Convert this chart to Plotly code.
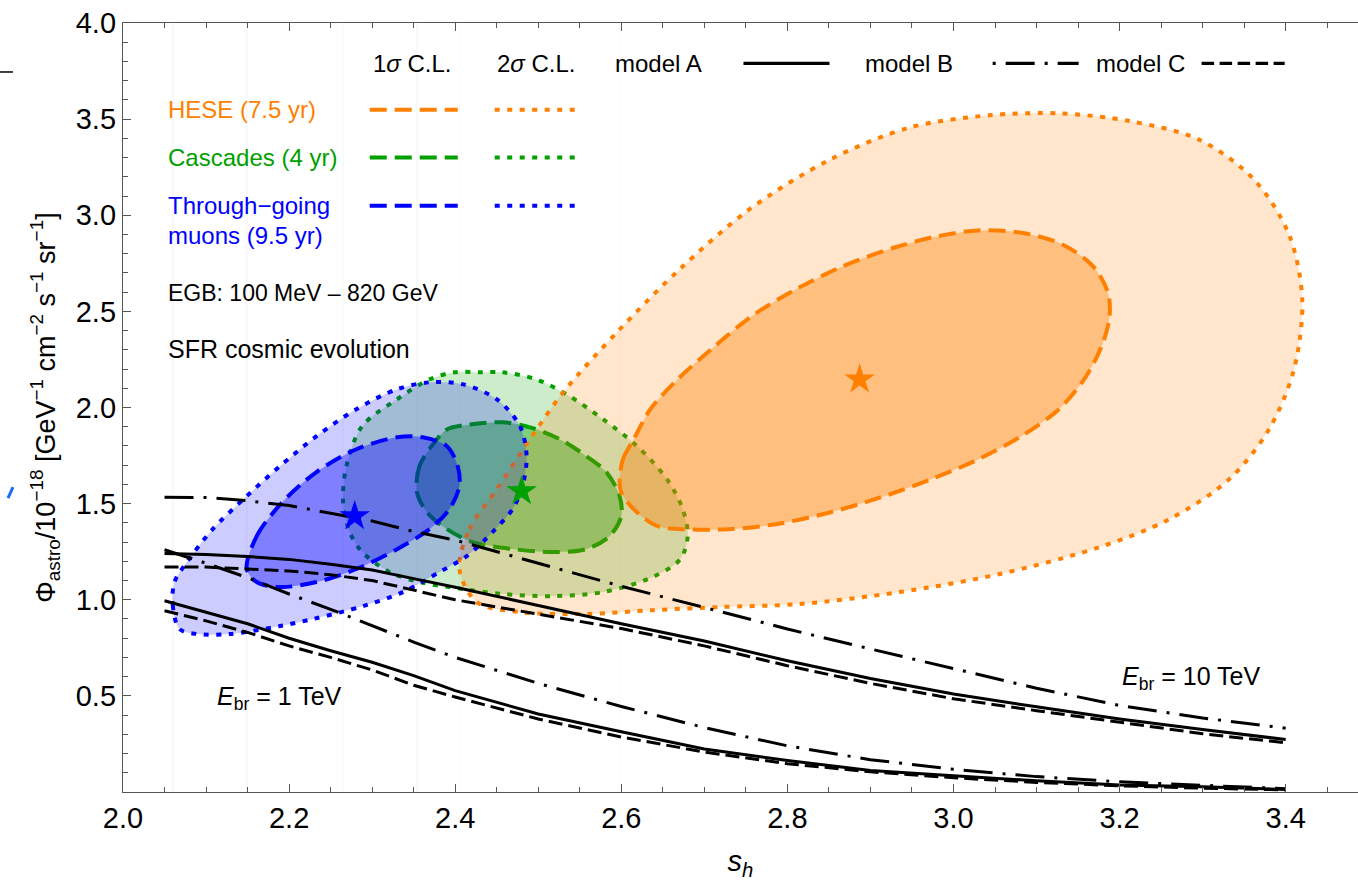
import plotly.graph_objects as go

# ---------------- data ----------------
# model curves: s_h grid and flux for the two break energies
s_grid = [2.05, 2.10, 2.15, 2.20, 2.25, 2.30, 2.35, 2.40, 2.50, 2.60,
          2.70, 2.80, 2.90, 3.00, 3.10, 3.20, 3.30, 3.40]

# E_br = 10 TeV
flux_A_10 = [1.240, 1.235, 1.225, 1.210, 1.185, 1.155, 1.110, 1.065, 0.970, 0.875,
             0.785, 0.683, 0.590, 0.510, 0.443, 0.380, 0.325, 0.273]
flux_B_10 = [1.533, 1.532, 1.515, 1.490, 1.450, 1.410, 1.355, 1.310, 1.190, 1.070,
             0.960, 0.848, 0.744, 0.640, 0.540, 0.450, 0.385, 0.332]
flux_C_10 = [1.170, 1.170, 1.160, 1.150, 1.130, 1.100, 1.050, 1.000, 0.925, 0.850,
             0.760, 0.657, 0.565, 0.485, 0.423, 0.364, 0.303, 0.256]

# E_br = 1 TeV
flux_A_1 = [0.995, 0.935, 0.875, 0.800, 0.735, 0.675, 0.605, 0.527, 0.406, 0.313,
            0.224, 0.164, 0.112, 0.084, 0.058, 0.037, 0.027, 0.013]
flux_B_1 = [1.260, 1.190, 1.115, 1.030, 0.950, 0.865, 0.780, 0.700, 0.565, 0.445,
            0.335, 0.240, 0.168, 0.118, 0.080, 0.053, 0.034, 0.017]
flux_C_1 = [0.943, 0.890, 0.830, 0.760, 0.700, 0.635, 0.555, 0.494, 0.380, 0.286,
            0.208, 0.147, 0.105, 0.074, 0.050, 0.032, 0.020, 0.011]

# best-fit points (s_h, flux)
hese_best = (2.887, 2.146)
casc_best = (2.480, 1.565)
muon_best = (2.279, 1.435)

# confidence contours (s_h, flux)
hese_2s_x = [2.405, 2.417, 2.450, 2.490, 2.530, 2.598, 2.670, 2.754, 2.851, 2.947,
             3.043, 3.127, 3.212, 3.296, 3.362, 3.404, 3.420, 3.410, 3.380, 3.332,
             3.260, 3.176, 3.056, 2.935, 2.815, 2.718, 2.638, 2.558, 2.477, 2.426]
hese_2s_y = [1.160, 1.367, 1.575, 1.835, 2.079, 2.406, 2.718, 3.030, 3.289, 3.456,
             3.520, 3.530, 3.490, 3.393, 3.185, 2.900, 2.562, 2.198, 1.887, 1.627,
             1.419, 1.274, 1.134, 1.040, 0.978, 0.962, 0.946, 0.926, 0.936, 0.988]

hese_1s_x = [2.598, 2.602, 2.615, 2.635, 2.668, 2.708, 2.757, 2.810, 2.867, 2.928,
             2.981, 3.030, 3.082, 3.131, 3.168, 3.186, 3.188, 3.180, 3.160, 3.127,
             3.082, 3.030, 2.973, 2.912, 2.851, 2.786, 2.729, 2.676, 2.643, 2.615,
             2.600]
hese_1s_y = [1.610, 1.731, 1.835, 1.991, 2.147, 2.302, 2.475, 2.614, 2.735, 2.831,
             2.891, 2.921, 2.909, 2.848, 2.735, 2.597, 2.475, 2.337, 2.164, 1.991,
             1.852, 1.731, 1.627, 1.532, 1.454, 1.393, 1.367, 1.367, 1.384, 1.471,
             1.558]

casc_2s_x = [2.430, 2.457, 2.498, 2.538, 2.578, 2.619, 2.655, 2.674, 2.680, 2.671,
             2.638, 2.578, 2.518, 2.457, 2.409, 2.357, 2.321, 2.288, 2.273, 2.265,
             2.269, 2.288, 2.330, 2.369, 2.399]
casc_2s_y = [2.183, 2.183, 2.146, 2.058, 1.939, 1.799, 1.627, 1.471, 1.331, 1.211,
             1.118, 1.040, 1.019, 1.030, 1.056, 1.092, 1.144, 1.248, 1.352, 1.508,
             1.695, 1.903, 2.043, 2.146, 2.183]

casc_1s_x = [2.378, 2.357, 2.354, 2.366, 2.390, 2.421, 2.469, 2.518, 2.558, 2.586,
             2.600, 2.598, 2.582, 2.558, 2.526, 2.490, 2.457, 2.418, 2.390]
casc_1s_y = [1.835, 1.695, 1.560, 1.456, 1.367, 1.300, 1.264, 1.248, 1.264, 1.331,
             1.435, 1.539, 1.664, 1.747, 1.835, 1.897, 1.923, 1.912, 1.886]

muon_2s_x = [2.068, 2.060, 2.062, 2.077, 2.108, 2.149, 2.189, 2.233, 2.281, 2.330,
             2.369, 2.409, 2.450, 2.478, 2.486, 2.481, 2.469, 2.445, 2.414, 2.381,
             2.337, 2.289, 2.229, 2.189, 2.129, 2.089]
muon_2s_y = [0.848, 0.967, 1.092, 1.196, 1.367, 1.539, 1.695, 1.851, 1.991, 2.095,
             2.131, 2.121, 2.043, 1.903, 1.747, 1.591, 1.471, 1.352, 1.227, 1.144,
             1.040, 0.967, 0.900, 0.863, 0.822, 0.822]

muon_1s_x = [2.149, 2.161, 2.192, 2.233, 2.281, 2.330, 2.361, 2.390, 2.403, 2.405,
             2.393, 2.369, 2.330, 2.281, 2.233, 2.189, 2.161]
muon_1s_y = [1.160, 1.331, 1.508, 1.664, 1.783, 1.845, 1.845, 1.799, 1.695, 1.591,
             1.471, 1.367, 1.263, 1.160, 1.092, 1.066, 1.092]

# axis ticks
x_ticks = [2.0, 2.2, 2.4, 2.6, 2.8, 3.0, 3.2, 3.4]
y_ticks = [0.5, 1.0, 1.5, 2.0, 2.5, 3.0, 3.5, 4.0]

# ---------------- styles ----------------
ORANGE = "#ff8000"
GREEN = "#00a000"
BLUE = "#0000ff"
FONT = "Liberation Sans, Arial, sans-serif"
DASH_1S = "17px,8px"
DASH_2S = "5px,7.5px"
DASH_B = "29px,10px,3px,10px"
DASH_C = "14px,6px"


def rgba(hex_color, a):
    h = hex_color.lstrip("#")
    r, g, b = int(h[0:2], 16), int(h[2:4], 16), int(h[4:6], 16)
    return f"rgba({r},{g},{b},{a})"


fig = go.Figure()


def contour(xs, ys, color, dash, alpha):
    fig.add_trace(go.Scatter(
        x=xs + xs[:1], y=ys + ys[:1], mode="lines",
        line=dict(color=color, width=4, dash=dash, shape="spline", smoothing=0.9),
        fill="toself", fillcolor=rgba(color, alpha),
        hoverinfo="skip", showlegend=False))


# confidence regions (cascades, HESE, through-going muons)
contour(casc_2s_x, casc_2s_y, GREEN, DASH_2S, 0.2)
contour(casc_1s_x, casc_1s_y, GREEN, DASH_1S, 0.375)
contour(hese_2s_x, hese_2s_y, ORANGE, DASH_2S, 0.2)
contour(hese_1s_x, hese_1s_y, ORANGE, DASH_1S, 0.375)
contour(muon_2s_x, muon_2s_y, BLUE, DASH_2S, 0.2)
contour(muon_1s_x, muon_1s_y, BLUE, DASH_1S, 0.375)

# faint fill seams at the left edge of each region
for xs, color in [(muon_2s_x, BLUE), (muon_1s_x, BLUE), (casc_2s_x, GREEN),
                  (casc_1s_x, GREEN), (hese_2s_x, ORANGE), (hese_1s_x, ORANGE)]:
    fig.add_shape(type="line", xref="x", yref="paper", x0=min(xs), x1=min(xs),
                  y0=0, y1=1, line=dict(color=rgba(color, 0.06), width=1), layer="below")

# model curves
for ys, dash in [(flux_A_10, "solid"), (flux_C_10, DASH_C), (flux_B_10, DASH_B),
                 (flux_A_1, "solid"), (flux_C_1, DASH_C), (flux_B_1, DASH_B)]:
    fig.add_trace(go.Scatter(x=s_grid, y=ys, mode="lines",
                             line=dict(color="black", width=3, dash=dash),
                             hoverinfo="skip", showlegend=False))

# best-fit stars
for (bx, by), color in [(hese_best, ORANGE), (casc_best, GREEN), (muon_best, BLUE)]:
    fig.add_trace(go.Scatter(x=[bx], y=[by], mode="markers",
                             marker=dict(symbol="star", size=23, color=color,
                                         line=dict(width=0)),
                             hoverinfo="skip", showlegend=False))

# ---------------- legend block ----------------
def text(x, y, s, color="black", size=24, anchor="left"):
    fig.add_annotation(x=x, y=y, xref="x", yref="y", text=s, showarrow=False,
                       xanchor=anchor, yanchor="middle",
                       font=dict(family=FONT, size=size, color=color))


def sample(x0, x1, y, color, dash, width=4):
    fig.add_shape(type="line", xref="x", yref="y", x0=x0, x1=x1, y0=y, y1=y,
                  line=dict(color=color, width=width, dash=dash))


head_y = 3.79
text(2.2987, head_y, "1<i>σ</i> C.L.")
text(2.4479, head_y, "2<i>σ</i> C.L.")
text(2.5896, head_y, "model A")
sample(2.7471, 2.8507, head_y, "black", "solid", 3.3)
text(2.8906, head_y, "model B")
sample(3.0472, 3.1507, head_y, "black", "3px,10px,29px,10px", 3.3)
text(3.1687, head_y, "model C")
sample(3.2988, 3.3988, head_y, "black", "12.5px,5.5px", 3.3)

rows = [(3.549, "HESE (7.5 yr)", ORANGE),
        (3.300, "Cascades (4 yr)", GREEN),
        (3.050, "Through\u2212going", BLUE)]
for ry, label, color in rows:
    text(2.0517, ry, label, color)
    sample(2.2971, 2.4031, ry, color, DASH_1S)
    sample(2.4476, 2.5439, ry, color, DASH_2S)
text(2.0517, 2.894, "muons (9.5 yr)", BLUE)

text(2.0517, 2.595, "EGB: 100 MeV \u2013 820 GeV", size=23)
text(2.0517, 2.305, "SFR cosmic evolution", size=25)
text(2.1107, 0.49, "<i>E</i><sub>br</sub> = 1 TeV", size=25)
text(3.2000, 0.593, "<i>E</i><sub>br</sub> = 10 TeV", size=25)

# small marks left of the axis
fig.add_shape(type="line", xref="paper", yref="paper", x0=-0.0996, x1=-0.0891,
              y0=0.9363, y1=0.9363, line=dict(color="black", width=1.5))
fig.add_shape(type="line", xref="paper", yref="paper", x0=-0.0931, x1=-0.0891,
              y0=0.3823, y1=0.3966, line=dict(color="#1a6cff", width=3))

axis_common = dict(
    showgrid=False, zeroline=False, showline=True, linecolor="#555555", linewidth=1.3,
    ticks="inside", ticklen=8, tickwidth=1.2, tickcolor="#555555",
    tickfont=dict(family=FONT, size=29, color="black"),
)

fig.update_xaxes(
    range=[2.0, 3.4871], tickmode="array", tickvals=x_ticks,
    ticktext=[f"{v:.1f}" for v in x_ticks], mirror="ticks",
    minor=dict(dtick=0.05, tick0=2.0, ticks="inside", ticklen=5, tickcolor="#555555",
               tickwidth=1),
    title=dict(text="<i>s<sub>h</sub></i>", font=dict(family=FONT, size=29, color="black"),
               standoff=18),
    **axis_common)
fig.update_yaxes(
    range=[0.0, 4.0], tickmode="array", tickvals=y_ticks,
    ticktext=[f"{v:.1f}" for v in y_ticks],
    minor=dict(dtick=0.1, tick0=0.0, ticks="inside", ticklen=5, tickcolor="#555555",
               tickwidth=1),
    title=dict(text="\u03a6<sub>astro</sub>/10<sup>\u221218</sup> [GeV<sup>\u22121</sup> "
                    "cm<sup>\u22122</sup> s<sup>\u22121</sup> sr<sup>\u22121</sup>]",
               font=dict(family=FONT, size=27, color="black"), standoff=12),
    **axis_common)

fig.update_layout(
    width=1358, height=881,
    margin=dict(l=123, r=0, t=23, b=89),
    paper_bgcolor="white", plot_bgcolor="white",
    showlegend=False,
)

fig.write_html("out.html")
